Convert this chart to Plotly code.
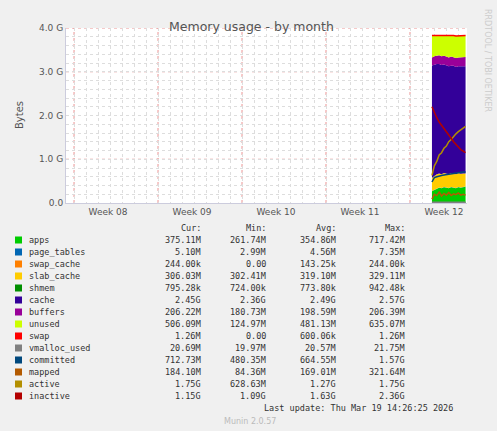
import plotly.graph_objects as go

# time in days from start of axis
t = [30.5, 30.7, 30.9, 31.1, 31.3, 31.5, 31.7, 31.9, 32.1, 32.3, 32.5, 32.7, 32.9, 33.1, 33.3]
apps =        [0.27, 0.30, 0.33, 0.35, 0.34, 0.36, 0.35, 0.34, 0.36, 0.35, 0.34, 0.36, 0.35, 0.36, 0.37]
page_tables = [0.004, 0.005, 0.005, 0.005, 0.005, 0.005, 0.005, 0.005, 0.005, 0.005, 0.005, 0.005, 0.005, 0.005, 0.005]
swap_cache =  [0.0002]*15
slab_cache =  [0.30, 0.31, 0.32, 0.32, 0.31, 0.32, 0.32, 0.31, 0.32, 0.32, 0.31, 0.32, 0.31, 0.31, 0.30]
shmem =       [0.0008]*15
cache =       [2.57, 2.55, 2.52, 2.50, 2.50, 2.48, 2.47, 2.47, 2.45, 2.46, 2.45, 2.44, 2.46, 2.45, 2.45]
buffers =     [0.18, 0.19, 0.19, 0.20, 0.20, 0.20, 0.20, 0.20, 0.21, 0.20, 0.21, 0.20, 0.20, 0.21, 0.21]
unused =      [0.50, 0.47, 0.46, 0.45, 0.47, 0.46, 0.48, 0.49, 0.48, 0.49, 0.50, 0.49, 0.50, 0.49, 0.49]
swap =        [0.0013]*15
vmalloc_used =[0.02]*15
committed =   [0.48, 0.58, 0.60, 0.62, 0.63, 0.64, 0.65, 0.66, 0.66, 0.67, 0.68, 0.69, 0.70, 0.71, 0.71]
mapped =      [0.09, 0.20, 0.17, 0.25, 0.16, 0.22, 0.18, 0.24, 0.17, 0.21, 0.19, 0.23, 0.18, 0.20, 0.18]
active =      [0.63, 0.85, 0.95, 1.10, 1.15, 1.25, 1.30, 1.40, 1.45, 1.52, 1.58, 1.63, 1.67, 1.72, 1.75]
inactive =    [2.20, 2.05, 1.95, 1.85, 1.78, 1.70, 1.62, 1.55, 1.48, 1.40, 1.35, 1.28, 1.22, 1.18, 1.15]

week_pos = [3.5, 10.5, 17.5, 24.5, 31.5]
week_labels = ["Week 08", "Week 09", "Week 10", "Week 11", "Week 12"]
week_bounds = [0.67, 7.67, 14.67, 21.67, 28.67]

names = ["apps","page_tables","swap_cache","slab_cache","shmem","cache","buffers","unused","swap",
         "vmalloc_used","committed","mapped","active","inactive"]
colors = ["#00CC00","#0066B3","#FF8000","#FFCC00","#008F00","#330099","#990099","#CCFF00","#FF0000",
          "#808080","#00487D","#B35A00","#B38F00","#B30000"]
cur = ["375.11M","5.10M","244.00k","306.03M","795.28k","2.45G","206.22M","506.09M","1.26M","20.69M","712.73M","184.10M","1.75G","1.15G"]
mn  = ["261.74M","2.99M","0.00","302.41M","724.00k","2.36G","180.73M","124.97M","0.00","19.97M","480.35M","84.36M","628.63M","1.09G"]
avg = ["354.86M","4.56M","143.25k","319.10M","773.80k","2.49G","198.59M","481.13M","600.06k","20.57M","664.55M","169.01M","1.27G","1.63G"]
mx  = ["717.42M","7.35M","244.00k","329.11M","942.48k","2.57G","206.39M","635.07M","1.26M","21.75M","1.57G","321.64M","1.75G","2.36G"]

fig = go.Figure()
stack = [apps, page_tables, swap_cache, slab_cache, shmem, cache, buffers, unused, swap]
for i, s in enumerate(stack):
    fig.add_trace(go.Scatter(x=t, y=s, stackgroup="m", mode="lines", line=dict(width=0 if i < 8 else 1.5, color=colors[i]),
                             fillcolor=colors[i], hoverinfo="skip"))
for s, c in zip([vmalloc_used, committed, mapped, active, inactive], colors[9:]):
    fig.add_trace(go.Scatter(x=t, y=s, mode="lines", line=dict(width=1.5, color=c), hoverinfo="skip"))

shapes = []
for b in week_bounds:
    shapes.append(dict(type="line", xref="x", yref="paper", x0=b, x1=b, y0=0, y1=1,
                       line=dict(color="rgba(230,120,120,0.8)", width=1, dash="dot"), layer="below"))
for g in [1, 2, 3, 4]:
    shapes.append(dict(type="line", xref="paper", yref="y", x0=0, x1=1, y0=g, y1=g,
                       line=dict(color="rgba(230,120,120,0.8)", width=1, dash="dot"), layer="below"))

ann = []
mono = dict(family="DejaVu Sans Mono", size=8.5, color="#333")
def put(x, y, text, anchor="right", font=mono):
    ann.append(dict(x=x, y=y, xref="paper", yref="paper", text=text, showarrow=False,
                    xanchor=anchor, yanchor="middle", font=font))
W, H = 497, 431
L, R, T, B = 66, 30, 28, 228
pw, ph = W - L - R, H - T - B
def px(x): return (x - L) / pw
def py(y): return (H - B - y) / ph
put(px(203), py(228), "Cur:"); put(px(268), py(228), "Min:"); put(px(338), py(228), "Avg:"); put(px(407), py(228), "Max:")
for i, n in enumerate(names):
    y = 240 + i * 12
    shapes.append(dict(type="rect", xref="paper", yref="paper", x0=px(15), x1=px(22), y0=py(y+3.5), y1=py(y-3.5),
                       fillcolor=colors[i], line=dict(width=0)))
    put(px(27), py(y), n, "left")
    put(px(203), py(y), cur[i]); put(px(268), py(y), mn[i]); put(px(338), py(y), avg[i]); put(px(407), py(y), mx[i])
put(px(455), py(408), "Last update: Thu Mar 19 14:26:25 2026")
put(px(250), py(421), "Munin 2.0.57", "center", dict(family="DejaVu Sans", size=8, color="#bbb"))
ann.append(dict(x=px(488), y=py(60), xref="paper", yref="paper", text="RRDTOOL / TOBI OETIKER", textangle=90,
                showarrow=False, xanchor="center", yanchor="middle", font=dict(family="DejaVu Sans", size=8, color="#ccc")))
ann.append(dict(x=px(12), y=0.5, xref="paper", yref="paper", text="Bytes", textangle=-90, showarrow=False,
                font=dict(family="DejaVu Sans", size=10, color="#555")))
ann.append(dict(x=px(251), y=py(17), xref="paper", yref="paper", text="Memory usage - by month", showarrow=False,
                font=dict(family="DejaVu Sans", size=12.5, color="#555")))

fig.update_layout(
    width=W, height=H, margin=dict(l=L, r=R, t=T, b=B), paper_bgcolor="#F0F0F0", plot_bgcolor="white",
    showlegend=False, shapes=shapes, annotations=ann,
    xaxis=dict(range=[0, 33.42], tickvals=week_pos, ticktext=week_labels, showgrid=False, zeroline=False,
               tickfont=dict(family="DejaVu Sans", size=9, color="#555"),
               minor=dict(dtick=1, tick0=0.67, showgrid=True, gridcolor="#ddd", griddash="dot", gridwidth=1),
               showline=True, linecolor="#ccd", ticks=""),
    yaxis=dict(range=[0, 4.0], tickvals=[0, 1, 2, 3, 4], ticktext=["0.0", "1.0 G", "2.0 G", "3.0 G", "4.0 G"],
               showgrid=False, zeroline=False, tickfont=dict(family="DejaVu Sans", size=9, color="#555"),
               minor=dict(dtick=0.2, showgrid=True, gridcolor="#ddd", griddash="dot", gridwidth=1),
               showline=True, linecolor="#ccd", ticks=""),
)
fig.write_html("out.html", config={"displayModeBar": False},
               post_script="document.body.style.margin='0';document.body.style.background='#F0F0F0';")
